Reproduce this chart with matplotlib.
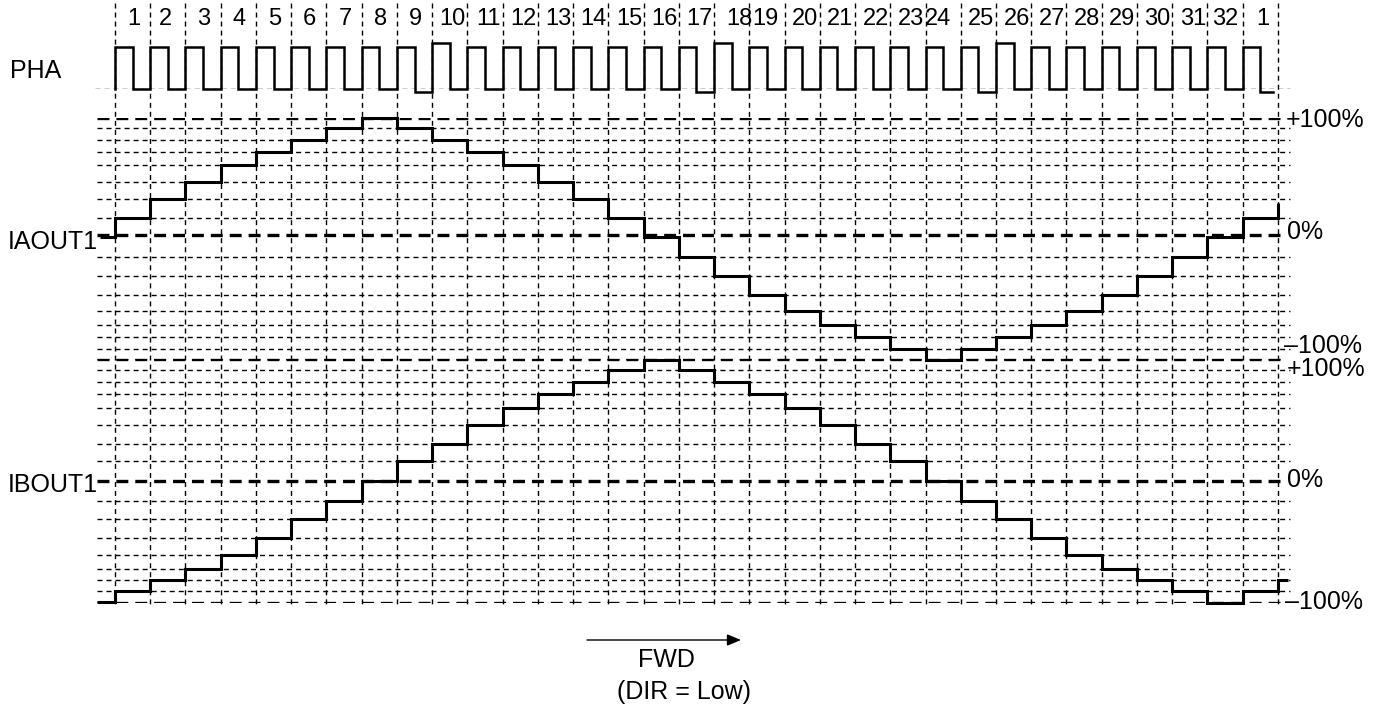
import numpy as np
import matplotlib
matplotlib.use("Agg")
import matplotlib.pyplot as plt

plt.rcParams['font.family'] = ['Liberation Sans', 'DejaVu Sans']
plt.rcParams['lines.scale_dashes'] = False

# ---------------- data ----------------
step_labels = [str(i) for i in range(1, 33)] + ['1']

# PHA square wave: level of the high and low part of every step (1..32, 1)
pha_high = [1, 1, 1, 1, 1, 1, 1, 1, 1, 1.08, 1, 1, 1, 1, 1, 1, 1,
            1.08, 1, 1, 1, 1, 1, 1, 1, 1.08, 1, 1, 1, 1, 1, 1, 1]
pha_low = [0, 0, 0, 0, 0, 0, 0, 0, -0.055, 0, 0, 0, 0, 0, 0, 0, -0.055,
           0, 0, 0, 0, 0, 0, 0, -0.055, 0, 0, 0, 0, 0, 0, 0, -0.055]

# Winding currents in % for step 0 (before 1), steps 1..32, then 1 and 2
ia_pct = [-1.4, 14.8, 30.8, 45.7, 60.0, 71.4, 81.5, 91.7, 100,
          91.7, 81.5, 71.4, 60.0, 45.7, 30.8, 14.8, -2.0,
          -18.0, -32.8, -48.2, -61.2, -72.0, -82.0, -91.4, -100,
          -91.4, -82.0, -72.0, -61.2, -48.2, -32.8, -18.0, -2.0,
          14.8, 27.0]
ib_pct = [-99, -90.3, -80.5, -71.7, -60.3, -46.2, -30.8, -16.4, 0,
          16.4, 31.0, 46.0, 60.3, 72.0, 81.8, 91.2, 99.5,
          91.2, 81.8, 72.0, 60.3, 46.0, 31.0, 16.4, 0,
          -16.4, -30.8, -46.2, -60.3, -71.7, -80.5, -90.3, -99.5,
          -90.3, -80.5]

ia_levels = [14.8, 30.8, 45.7, 60.0, 71.4, 81.5, 91.7,
             -18.0, -32.8, -48.2, -61.2, -72.0, -82.0, -91.4]
ib_levels = [16.4, 31.0, 46.0, 60.3, 72.0, 81.8, 91.2,
             -16.4, -30.8, -46.2, -60.3, -71.7, -80.5, -90.3]
major_levels = [100, 0, -100]
scale_labels = ['+100%', '0%', '\u2013100%']
trace_names = ['PHA', 'IAOUT1', 'IBOUT1']

# ---------------- layout ----------------
W, H = 1384, 711
fig = plt.figure(figsize=(W / 100, H / 100), dpi=100)
X0, DX = 115.0, 35.24          # pixel of first step boundary, step width
XL = (-X0 / DX, (W - X0) / DX)


def px_x(p):
    return (p - X0) / DX


def add_ax(top, bottom):
    ax = fig.add_axes([0, 1 - bottom / H, 1, (bottom - top) / H])
    ax.set_xlim(*XL)
    ax.set_axis_off()
    ax.patch.set_visible(False)
    return ax


FINE = dict(colors='black', linewidths=1.0, linestyles=[(0, (3.6, 2.9))])
BOLD = dict(colors='black', linewidths=2.4, linestyles=[(0, (8.6, 5.0))])
TRACE = dict(color='black', lw=2.2, drawstyle='steps-post', clip_on=False,
             solid_joinstyle='miter', solid_capstyle='butt')

# background: vertical step boundaries, step numbers, arrow
bg = add_ax(0, H)
bg.set_ylim(H, 0)
n_steps = len(step_labels)
bg.vlines(np.arange(n_steps + 1), 3, 607, **FINE)
label_shift = {'2': -2, '18': 8, '19': -2, '24': -5, '32': 0}
for i, lab in enumerate(step_labels):
    sh = label_shift.get(lab, 3 if len(lab) == 2 else 1) if not (i == 32) else 3
    bg.text(i + 0.5 + sh / DX, 25, lab, ha='center', va='baseline', fontsize=17)
bg.annotate('', xy=(px_x(741), 640), xytext=(px_x(587), 640),
            arrowprops=dict(arrowstyle='-|>,head_length=0.6,head_width=0.25',
                            lw=1.0, color='black', mutation_scale=14,
                            shrinkA=0, shrinkB=0))

# PHA
ax_p = add_ax(46.7, 89.3)
ax_p.set_ylim(0, 1)
ax_p.hlines([0], px_x(95), px_x(1290), **FINE)
xs, ys = [0.0], [0.0]
for i in range(n_steps):
    xs += [i, i + 0.5]
    ys += [pha_high[i], pha_low[i]]
xs.append(32.85)
ys.append(pha_low[-1])
ax_p.plot(xs, ys, color='black', lw=1.8, drawstyle='steps-post', clip_on=False,
          solid_joinstyle='miter')

# IAOUT1 (upper half and lower half are drawn with different heights)
UP, DN = 116.7, 124.5
ax_a = add_ax(118.3, 359.5)
ax_a.set_yscale('function', functions=(lambda y: np.where(y >= 0, y * UP, y * DN),
                                       lambda t: np.where(t >= 0, t / UP, t / DN)))
ax_a.set_ylim(-100, 100)
ax_a.set_axis_off()
ax_a.hlines(ia_levels, px_x(97), px_x(1290), **FINE)
ax_a.hlines(major_levels, px_x(97), px_x(1280), **BOLD)
xa = np.concatenate([[px_x(100)], np.arange(0, len(ia_pct) - 1)])
ax_a.plot(xa, ia_pct, **TRACE)

# IBOUT1
ax_b = add_ax(359.5, 603.3)
ax_b.set_ylim(-100, 100)
ax_b.hlines(ib_levels, px_x(97), px_x(1290), **FINE)
ax_b.hlines(major_levels, px_x(97), px_x(1280), **BOLD)
xb = np.concatenate([[px_x(97)], np.arange(0, len(ib_pct) - 1), [px_x(1288)]])
ax_b.plot(xb, ib_pct + [ib_pct[-1]], **TRACE)


def ftext(x, y, s, **kw):
    fig.text(x / W, 1 - y / H, s, va='baseline', fontsize=18, **kw)


# names on the left
ftext(10, 78.5, trace_names[0])
ftext(8, 249.3, trace_names[1])
ftext(8, 491.7, trace_names[2])

# scale labels on the right
for (x, y), s in zip([(1286, 126.7), (1287, 239.3), (1284, 353.0)], scale_labels):
    ftext(x, y, s)
for (x, y), s in zip([(1287, 376.0), (1287, 486.7), (1285, 609.3)], scale_labels):
    ftext(x, y, s)

# direction note
ftext(666, 666.7, 'FWD', ha='center')
ftext(684, 699.0, '(DIR = Low)', ha='center')

fig.savefig('out.png', dpi=100)
